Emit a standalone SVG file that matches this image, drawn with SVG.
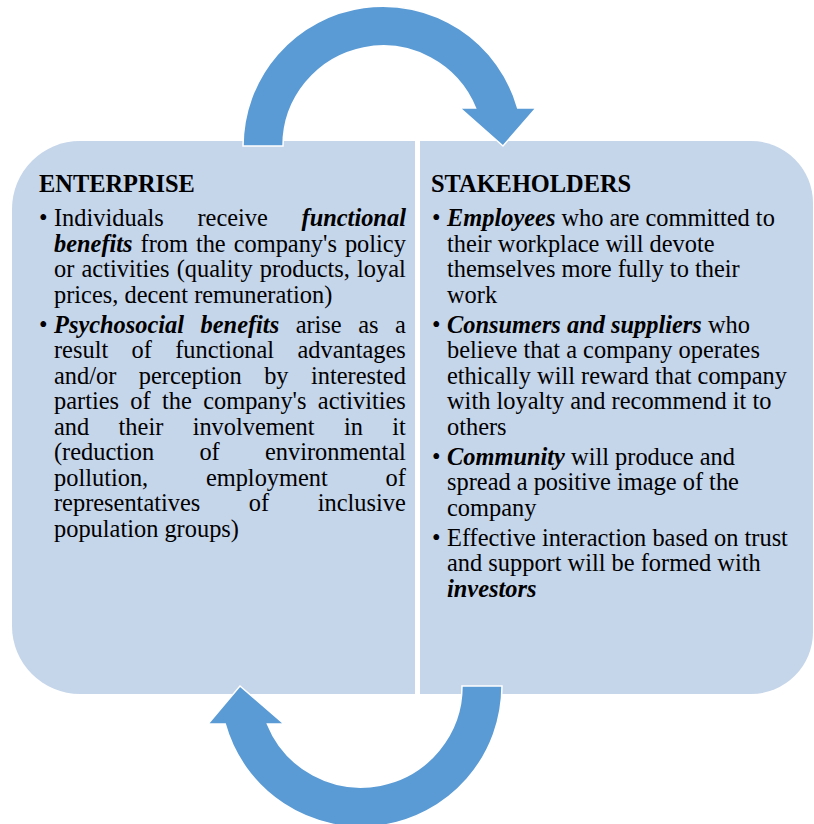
<svg xmlns="http://www.w3.org/2000/svg" width="814" height="824" viewBox="0 0 814 824">
  <style>
    .panel { fill: #C5D5EA; }
    .arrow { fill: #5B9BD5; stroke: #FFFFFF; stroke-width: 1.5; stroke-linejoin: miter; }
    text { font-family: "Liberation Serif", "Times New Roman", serif; font-size: 24.4px; fill: #000000; }
    .head { font-weight: bold; }
    .em { font-weight: bold; font-style: italic; }
  </style>

  <rect width="814" height="824" fill="#FFFFFF"/>

  <!-- Left panel: Enterprise -->
  <g id="enterprise">
    <path class="panel" d="M80,141 H415 V694 H80 A68,68 0 0 1 12,626 V209 A68,68 0 0 1 80,141 Z"/>
    <text class="head" x="39" y="192">ENTERPRISE</text>
    <text x="39" y="226">•</text>
    <text x="39" y="332.5">•</text>
    <text x="54" y="226" word-spacing="27.6">Individuals receive <tspan class="em">functional</tspan></text>
    <text x="54" y="251.5" word-spacing="1.85"><tspan class="em">benefits</tspan> from the company's policy</text>
    <text x="54" y="277" word-spacing="1.08">or activities (quality products, loyal</text>
    <text x="54" y="302.5">prices, decent remuneration)</text>
    <text x="54" y="332.5" word-spacing="10.4"><tspan class="em">Psychosocial benefits</tspan> arise as a</text>
    <text x="54" y="358" word-spacing="17.27">result of functional advantages</text>
    <text x="54" y="383.5" word-spacing="16.37">and/or perception by interested</text>
    <text x="54" y="409" word-spacing="5.25">parties of the company's activities</text>
    <text x="54" y="434.5" word-spacing="23.27">and their involvement in it</text>
    <text x="54" y="460" word-spacing="39.1">(reduction of environmental</text>
    <text x="54" y="485.5" word-spacing="51.6">pollution, employment of</text>
    <text x="54" y="511" word-spacing="42.5">representatives of inclusive</text>
    <text x="54" y="536.5">population groups)</text>
  </g>

  <!-- Right panel: Stakeholders -->
  <g id="stakeholders">
    <path class="panel" d="M420,141 H751 A62,62 0 0 1 813,203 V632 A62,62 0 0 1 751,694 H420 Z"/>
    <text class="head" x="431" y="192">STAKEHOLDERS</text>
    <text x="432" y="226">•</text>
    <text x="432" y="332.5">•</text>
    <text x="432" y="464.5">•</text>
    <text x="432" y="545.5">•</text>
    <text x="447" y="226"><tspan class="em">Employees</tspan> who are committed to</text>
    <text x="447" y="251.5">their workplace will devote</text>
    <text x="447" y="277">themselves more fully to their</text>
    <text x="447" y="302.5">work</text>
    <text x="447" y="332.5"><tspan class="em">Consumers and suppliers</tspan> who</text>
    <text x="447" y="358">believe that a company operates</text>
    <text x="447" y="383.5">ethically will reward that company</text>
    <text x="447" y="409">with loyalty and recommend it to</text>
    <text x="447" y="434.5">others</text>
    <text x="447" y="464.5"><tspan class="em">Community</tspan> will produce and</text>
    <text x="447" y="490">spread a positive image of the</text>
    <text x="447" y="515.5">company</text>
    <text x="447" y="545.5">Effective interaction based on trust</text>
    <text x="447" y="571">and support will be formed with</text>
    <text x="447" y="596.5" class="em">investors</text>
  </g>

  <!-- Circular flow arrows between the two panels -->
  <g id="connectors">
    <path class="arrow" d="M243,146 A140,140 0 0 1 517.7,108 L536,108 L503,146 L460,108 L475.5,108 A100,100 0 0 0 283,146 Z"/>
    <path class="arrow" d="M502,686 A141,141 0 0 1 225.2,724 L208,724 L240,686 L284,724 L267.4,724 A101,101 0 0 0 462,686 Z"/>
  </g>
</svg>
